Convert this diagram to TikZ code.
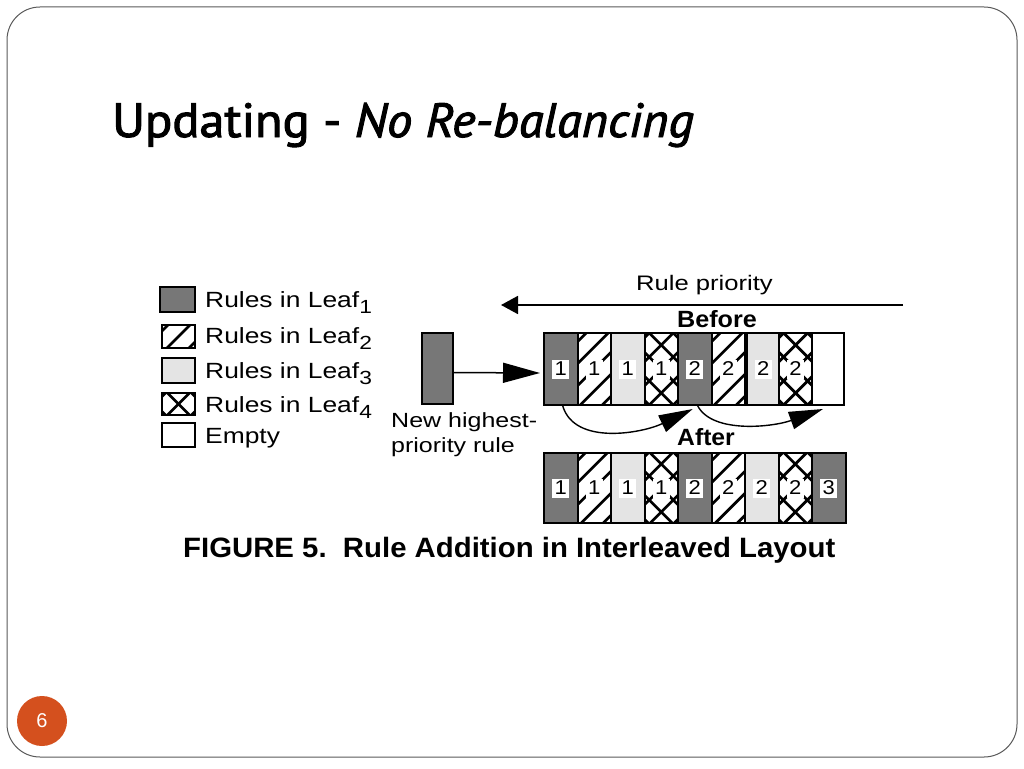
\documentclass[tikz,border=0pt]{standalone}
\usepackage{fontspec}
\setmainfont{Liberation Sans}
\newfontfamily\titlefont[FakeBold=2]{PT Sans}
\usepackage{graphicx}
\usetikzlibrary{arrows.meta}
\definecolor{darkcell}{HTML}{777777}
\definecolor{lightcell}{HTML}{E4E4E4}
\definecolor{slideborder}{HTML}{5A5A5A}
\definecolor{pagedot}{HTML}{D4501E}
\newcommand\sx[2]{\scalebox{#1}[1]{#2}}
\newcommand\fs[1]{\fontsize{#1}{#1}\selectfont}
\newcommand\lsub[1]{\raisebox{-6pt}{\fs{19}#1}}
\begin{document}
\begin{tikzpicture}[x=1pt,y=-1pt,
  hatchline/.style={line width=2.8pt, black},
  cellbase/.style={draw=black, line width=2pt, inner sep=0pt, minimum width=33.5pt, minimum height=72pt},
  legendbox/.style={draw=black, line width=2pt, inner sep=0pt, minimum width=33pt, minimum height=24pt},
  leafA/.style={fill=darkcell},
  leafB/.style={fill=white, path picture={\foreach \k in {-4,...,4}{\draw[hatchline] ([xshift=\k*22pt-60pt,yshift=-60pt]path picture bounding box.center) -- ++(120pt,120pt);}}},
  leafC/.style={fill=lightcell},
  leafD/.style={fill=white, path picture={\foreach \k in {-4,...,4}{\draw[hatchline] ([xshift=\k*24pt-60pt,yshift=-60pt]path picture bounding box.center) -- ++(120pt,120pt); \draw[hatchline] ([xshift=\k*24pt-60pt,yshift=60pt]path picture bounding box.center) -- ++(120pt,-120pt);}}},
  emptycell/.style={fill=white},
  numlabel/.style={fill=white, inner sep=0pt, minimum width=17pt, minimum height=19pt, font=\fs{20}},
  legendtext/.style={anchor=base west, inner sep=0pt, font=\fs{22}},
  arr/.style={line width=1.6pt, black},
]
\useasboundingbox (0,0) rectangle (1024,768);
\fill[white] (0,0) rectangle (1024,768);
\draw[slideborder, line width=1pt, rounded corners=33pt] (7,7) rectangle (1017,757);

% title
\node[anchor=base west, inner sep=0pt, font=\titlefont\fs{48}] (title) at (112,137) {\sx{1.05}{Updating - \textit{No Re-balancing}}};

% legend
\node[legendbox, leafA, minimum width=35pt, minimum height=25pt] (l1) at (177.5,299.5) {};
\node[legendbox, leafB, minimum height=23pt] (l2) at (178.5,336.5) {};
\node[legendbox, leafC, minimum height=25pt] (l3) at (178.5,370.5) {};
\node[legendbox, leafD, minimum height=22pt] (l4) at (178.5,404) {};
\node[legendbox, emptycell] (l5) at (178.5,435) {};
\node[legendtext] (t1) at (205,307) {\sx{1.2}{Rules in Leaf\lsub{1}}};
\node[legendtext] (t2) at (205,343) {\sx{1.2}{Rules in Leaf\lsub{2}}};
\node[legendtext] (t3) at (205,378) {\sx{1.2}{Rules in Leaf\lsub{3}}};
\node[legendtext] (t4) at (205,412) {\sx{1.2}{Rules in Leaf\lsub{4}}};
\node[legendtext] (t5) at (205,443) {\sx{1.2}{Empty}};

% rule priority
\node[anchor=base, inner sep=0pt, font=\fs{21}] (rp) at (704.5,290) {\sx{1.22}{Rule priority}};
\coordinate (rpR) at (903,305);
\coordinate (rpL) at (501,305);
\draw[arr, line width=1.8pt, -{Triangle[length=17pt,width=18pt]}] (rpR) -- (rpL);
\node[anchor=base, inner sep=0pt, font=\bfseries\fs{23.5}] (before) at (717,327) {\sx{1.07}{Before}};
\node[anchor=base, inner sep=0pt, font=\bfseries\fs{23.5}] (after) at (706,445) {\sx{1.05}{After}};

% new rule
\node[cellbase, leafA, minimum width=31pt, minimum height=71pt] (new) at (437.5,368.5) {};
\node[anchor=base west, align=left, inner sep=0pt, font=\fontsize{20.5}{25}\selectfont] (newtext) at (391,452) {\sx{1.22}{New highest-}\\\sx{1.22}{priority rule}};

% before array
\foreach \i/\x/\w/\t in {1/560.75/33.5/leafA, 2/594.25/33.5/leafB, 3/627.75/33.5/leafC, 4/661.25/33.5/leafD, 5/694.75/33.5/leafA, 6/728.25/33.5/leafB, 7/763.2/32.4/leafC, 8/795.6/32.4/leafD, 9/828.0/32.4/emptycell}
  \node[cellbase, \t, minimum width=\w pt] (b\i) at (\x,369) {};
\foreach \i/\n in {1/1,2/1,3/1,4/1,5/2,6/2,7/2,8/2}
  \node[numlabel] (bn\i) at (b\i) {\sx{1.1}{\n}};

% after array
\foreach \i/\t/\n in {1/leafA/1, 2/leafB/1, 3/leafC/1, 4/leafD/1, 5/leafA/2, 6/leafB/2, 7/leafC/2, 8/leafD/2, 9/leafA/3}{
  \node[cellbase, \t, minimum height=70pt] (a\i) at ({560.75+33.5*(\i-1)},488) {};
  \node[numlabel] (an\i) at (a\i) {\sx{1.1}{\n}};
}

% arrows
\draw[arr, line width=1.5pt, -{Triangle[length=37pt,width=20pt]}] ([yshift=-4pt]new.east) -- ([yshift=-4pt,xshift=-3pt]b1.west);
\draw[arr, line width=1.4pt, -{Triangle[length=34pt,width=18pt]}] ([xshift=2pt]b1.south) .. controls +(12,40) and +(-50,24) .. ([yshift=-3pt,xshift=-2pt]b5.south);
\draw[arr, line width=1.4pt, -{Triangle[length=34pt,width=18pt]}] ([xshift=3pt]b5.south) .. controls +(15,28) and +(-50,18) .. ([yshift=-3pt,xshift=-5pt]b9.south);

% caption
\node[anchor=base west, inner sep=0pt, font=\bfseries\fs{28}] (cap) at (183,557) {\sx{1.048}{FIGURE 5.\ \ Rule Addition in Interleaved Layout}};

% page number
\node[circle, fill=pagedot, minimum size=50pt, inner sep=0pt, text=white, font=\fs{20}] (pg) at (42,721) {6};
\end{tikzpicture}
\end{document}
